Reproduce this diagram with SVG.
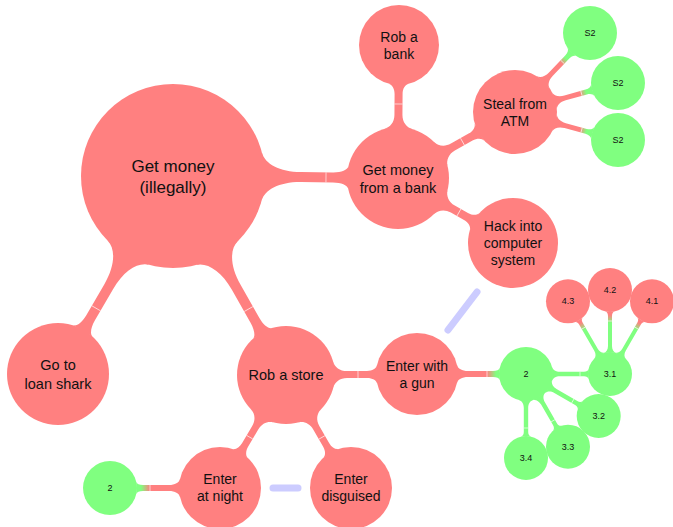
<svg xmlns="http://www.w3.org/2000/svg" width="673" height="527" viewBox="0 0 673 527">
<defs>
<style>
.red{fill:#ff8080}
.green{fill:#80ff80}
.t{font-family:"Liberation Sans",Arial,sans-serif;text-anchor:middle;fill:#111}
.t0{font-size:17px}
.t1{font-size:14.5px}
.t2{font-size:14px}
.t3{font-size:9px}
.seam{stroke:#fff;stroke-width:0.7;opacity:0.9}
.blue{stroke:#ccccff;stroke-width:7;stroke-linecap:round;fill:none}
</style>
<linearGradient id="gRG" gradientUnits="userSpaceOnUse" x1="70" y1="0" x2="79" y2="0"><stop offset="0" stop-color="#ff8080"/><stop offset="1" stop-color="#80ff80"/></linearGradient>
<linearGradient id="gRGs" gradientUnits="userSpaceOnUse" x1="67" y1="0" x2="74" y2="0"><stop offset="0" stop-color="#ff8080"/><stop offset="1" stop-color="#80ff80"/></linearGradient>
<linearGradient id="gGR" gradientUnits="userSpaceOnUse" x1="51" y1="0" x2="59" y2="0"><stop offset="0" stop-color="#80ff80"/><stop offset="1" stop-color="#ff8080"/></linearGradient>
<path id="c3" d="M26.08,7 C26.83,4.22 29.8,2.2 34,2.2 L58,2.2 C60.4,2.2 62.2,3.36 62.58,5 L62.58,-5 C62.2,-3.36 60.4,-2.2 58,-2.2 L34,-2.2 C29.8,-2.2 26.83,-4.22 26.08,-7Z"/>
<path id="c4" d="M21.17,6 C21.82,3.69 24.4,2 28,2 L58,2 C60.4,2 62.15,3.03 62.46,4.5 L62.46,-4.5 C62.15,-3.03 60.4,-2 58,-2 L28,-2 C24.4,-2 21.82,-3.69 21.17,-6Z"/>
</defs>
<rect width="673" height="527" fill="#fff"/>
<g id="connectors">
<g transform="translate(173,176) rotate(0.5)"><path class="red" d="M88.8,24 C91.8,13 106.4,5 128,5 L160,5 C168.4,5 174.4,7.5 175.2,11 L175.2,-11 C174.4,-7.5 168.4,-5 160,-5 L128,-5 C106.4,-5 91.8,-13 88.8,-24Z"/><line class="seam" x1="153" y1="-5" x2="153" y2="5"/></g>
<g transform="translate(173,176) rotate(120.15)"><path class="red" d="M88.8,24 C91.8,13 106.4,5 128,5 L164,5 C172.4,5 178.4,7.5 179.2,11 L179.2,-11 C178.4,-7.5 172.4,-5 164,-5 L128,-5 C106.4,-5 91.8,-13 88.8,-24Z"/><line class="seam" x1="153" y1="-5" x2="153" y2="5"/></g>
<g transform="translate(173,176) rotate(60.4)"><path class="red" d="M88.8,24 C91.8,13 106.4,5 128,5 L165.8,5 C174.2,5 180.2,7.5 181.05,11 L181.05,-11 C180.2,-7.5 174.2,-5 165.8,-5 L128,-5 C106.4,-5 91.8,-13 88.8,-24Z"/><line class="seam" x1="153" y1="-5" x2="153" y2="5"/></g>
<g transform="translate(398,178) rotate(-89.6)"><path class="red" d="M49.04,14 C50.7,8.2 55.8,4 63,4 L84,4 C89.4,4 93.4,6.5 94.27,10 L94.27,-10 C93.4,-6.5 89.4,-4 84,-4 L63,-4 C55.8,-4 50.7,-8.2 49.04,-14Z"/><line class="seam" x1="74" y1="-4" x2="74" y2="4"/></g>
<g transform="translate(398,178) rotate(-29.4)"><path class="red" d="M49.04,14 C50.7,8.2 55.8,4 63,4 L83.3,4 C88.7,4 92.65,6.5 93.5,10 L93.5,-10 C92.65,-6.5 88.7,-4 83.3,-4 L63,-4 C55.8,-4 50.7,-8.2 49.04,-14Z"/><line class="seam" x1="74" y1="-4" x2="74" y2="4"/></g>
<g transform="translate(398,178) rotate(29.5)"><path class="red" d="M49.04,14 C50.7,8.2 55.8,4 63,4 L78.1,4 C83.5,4 87.43,6.5 88.23,10 L88.23,-10 C87.43,-6.5 83.5,-4 78.1,-4 L63,-4 C55.8,-4 50.7,-8.2 49.04,-14Z"/><line class="seam" x1="70" y1="-4" x2="70" y2="4"/></g>
<g transform="translate(515,112) rotate(-46.5)"><path fill="url(#gRGs)" d="M41.03,9 C41.87,5.2 46,2.5 52,2.5 L75.9,2.5 C79.5,2.5 82.1,3.95 82.57,6 L82.57,-6 C82.1,-3.95 79.5,-2.5 75.9,-2.5 L52,-2.5 C46,-2.5 41.87,-5.2 41.03,-9Z"/><line class="seam" x1="69" y1="-2.5" x2="69" y2="2.5"/></g>
<g transform="translate(515,112) rotate(-15.7)"><path fill="url(#gRGs)" d="M41.03,9 C41.87,5.2 46,2.5 52,2.5 L74,2.5 C77.6,2.5 80.2,3.95 80.67,6 L80.67,-6 C80.2,-3.95 77.6,-2.5 74,-2.5 L52,-2.5 C46,-2.5 41.87,-5.2 41.03,-9Z"/><line class="seam" x1="69" y1="-2.5" x2="69" y2="2.5"/></g>
<g transform="translate(515,112) rotate(15.2)"><path fill="url(#gRGs)" d="M41.03,9 C41.87,5.2 46,2.5 52,2.5 L73.7,2.5 C77.3,2.5 79.9,3.95 80.37,6 L80.37,-6 C79.9,-3.95 77.3,-2.5 73.7,-2.5 L52,-2.5 C46,-2.5 41.87,-5.2 41.03,-9Z"/><line class="seam" x1="69" y1="-2.5" x2="69" y2="2.5"/></g>
<g transform="translate(286,375) rotate(-0.4)"><path class="red" d="M47.25,13 C48.76,7.5 53.8,3.5 61,3.5 L81,3.5 C86.4,3.5 90.28,5.8 91,9 L91,-9 C90.28,-5.8 86.4,-3.5 81,-3.5 L61,-3.5 C53.8,-3.5 48.76,-7.5 47.25,-13Z"/><line class="seam" x1="72" y1="-3.5" x2="72" y2="3.5"/></g>
<g transform="translate(286,375) rotate(120.3)"><path class="red" d="M47.25,13 C48.76,7.5 53.8,3.5 61,3.5 L80.9,3.5 C86.3,3.5 90.18,5.8 90.9,9 L90.9,-9 C90.18,-5.8 86.3,-3.5 80.9,-3.5 L61,-3.5 C53.8,-3.5 48.76,-7.5 47.25,-13Z"/><line class="seam" x1="72" y1="-3.5" x2="72" y2="3.5"/></g>
<g transform="translate(286,375) rotate(60.1)"><path class="red" d="M47.25,13 C48.76,7.5 53.8,3.5 61,3.5 L80.4,3.5 C85.8,3.5 89.68,5.8 90.4,9 L90.4,-9 C89.68,-5.8 85.8,-3.5 80.4,-3.5 L61,-3.5 C53.8,-3.5 48.76,-7.5 47.25,-13Z"/><line class="seam" x1="72" y1="-3.5" x2="72" y2="3.5"/></g>
<g transform="translate(417,374)"><path fill="url(#gRG)" d="M40,9 C40.79,5.5 45,3 51,3 L76,3 C79.6,3 82.27,4.24 82.67,6 L82.67,-6 C82.27,-4.24 79.6,-3 76,-3 L51,-3 C45,-3 40.79,-5.5 40,-9Z"/><line class="seam" x1="70" y1="-3" x2="70" y2="3"/></g>
<g transform="translate(220,488) rotate(180)"><path fill="url(#gRG)" d="M40,9 C40.79,5.5 45,3 51,3 L77,3 C80.6,3 83.27,4.24 83.67,6 L83.67,-6 C83.27,-4.24 80.6,-3 77,-3 L51,-3 C45,-3 40.79,-5.5 40,-9Z"/><line class="seam" x1="70" y1="-3" x2="70" y2="3"/></g>
<g transform="translate(526,374)"><use href="#c3" class="green"/><line class="seam" x1="54" y1="-2.2" x2="54" y2="2.2"/></g>
<g transform="translate(526,374) rotate(30)"><use href="#c3" class="green"/><line class="seam" x1="54" y1="-2.2" x2="54" y2="2.2"/></g>
<g transform="translate(526,374) rotate(60)"><use href="#c3" class="green"/><line class="seam" x1="54" y1="-2.2" x2="54" y2="2.2"/></g>
<g transform="translate(526,374) rotate(90)"><use href="#c3" class="green"/><line class="seam" x1="54" y1="-2.2" x2="54" y2="2.2"/></g>
<g transform="translate(610,374) rotate(-60)"><use href="#c4" fill="url(#gGR)"/><line class="seam" x1="53" y1="-2" x2="53" y2="2"/></g>
<g transform="translate(610,374) rotate(-90)"><use href="#c4" fill="url(#gGR)"/><line class="seam" x1="53" y1="-2" x2="53" y2="2"/></g>
<g transform="translate(610,374) rotate(-120)"><use href="#c4" fill="url(#gGR)"/><line class="seam" x1="53" y1="-2" x2="53" y2="2"/></g>
<line class="blue" x1="448" y1="330" x2="477" y2="292"/>
<line class="blue" x1="273" y1="488" x2="298" y2="488"/>
</g>
<g id="root"><circle class="red" cx="173" cy="176" r="92"/><text class="t t0" x="173" y="171.5">Get money</text><text class="t t0" x="173" y="192.5">(illegally)</text></g>
<g id="bank"><circle class="red" cx="398" cy="178" r="51"/><text class="t t1" x="398" y="174.5">Get money</text><text class="t t1" x="398" y="193">from a bank</text></g>
<g id="robbank"><circle class="red" cx="399" cy="45" r="40"/><text class="t t2" x="399" y="41.5">Rob a</text><text class="t t2" x="399" y="58.5">bank</text></g>
<g id="atm"><circle class="red" cx="515" cy="112" r="42"/><text class="t t2" x="515" y="108.5">Steal from</text><text class="t t2" x="515" y="125.5">ATM</text></g>
<g id="s2a"><circle class="green" cx="590" cy="33" r="27"/><text class="t t3" x="590" y="36">S2</text></g>
<g id="s2b"><circle class="green" cx="618" cy="83" r="27"/><text class="t t3" x="618" y="86">S2</text></g>
<g id="s2c"><circle class="green" cx="618" cy="140" r="27"/><text class="t t3" x="618" y="143">S2</text></g>
<g id="hack"><circle class="red" cx="513" cy="243" r="45"/><text class="t t2" x="513" y="231">Hack into</text><text class="t t2" x="513" y="248">computer</text><text class="t t2" x="513" y="265">system</text></g>
<g id="loan"><circle class="red" cx="58" cy="374" r="51"/><text class="t t1" x="58" y="370">Go to</text><text class="t t1" x="58" y="389">loan shark</text></g>
<g id="store"><circle class="red" cx="286" cy="375" r="49"/><text class="t t1" x="286" y="380">Rob a store</text></g>
<g id="gun"><circle class="red" cx="417" cy="374" r="41"/><text class="t t2" x="417" y="370.5">Enter with</text><text class="t t2" x="417" y="387.5">a gun</text></g>
<g id="night"><circle class="red" cx="220" cy="488" r="41"/><text class="t t2" x="220" y="484">Enter</text><text class="t t2" x="220" y="501">at night</text></g>
<g id="disguised"><circle class="red" cx="351" cy="488" r="41"/><text class="t t2" x="351" y="484">Enter</text><text class="t t2" x="351" y="501">disguised</text></g>
<g id="g2"><circle class="green" cx="526" cy="374" r="27"/><text class="t t3" x="526" y="377">2</text></g>
<g id="g2left"><circle class="green" cx="110" cy="488" r="27"/><text class="t t3" x="110" y="491">2</text></g>
<g id="n31"><circle class="green" cx="610" cy="374" r="22"/><text class="t t3" x="610" y="377">3.1</text></g>
<g id="n32"><circle class="green" cx="598.7" cy="416" r="22"/><text class="t t3" x="598.7" y="419">3.2</text></g>
<g id="n33"><circle class="green" cx="568" cy="446.7" r="22"/><text class="t t3" x="568" y="449.7">3.3</text></g>
<g id="n34"><circle class="green" cx="526" cy="458" r="22"/><text class="t t3" x="526" y="461">3.4</text></g>
<g id="n41"><circle class="red" cx="652" cy="301.3" r="22"/><text class="t t3" x="652" y="304.3">4.1</text></g>
<g id="n42"><circle class="red" cx="610" cy="290" r="22"/><text class="t t3" x="610" y="293">4.2</text></g>
<g id="n43"><circle class="red" cx="568" cy="301.3" r="22"/><text class="t t3" x="568" y="304.3">4.3</text></g>
</svg>
